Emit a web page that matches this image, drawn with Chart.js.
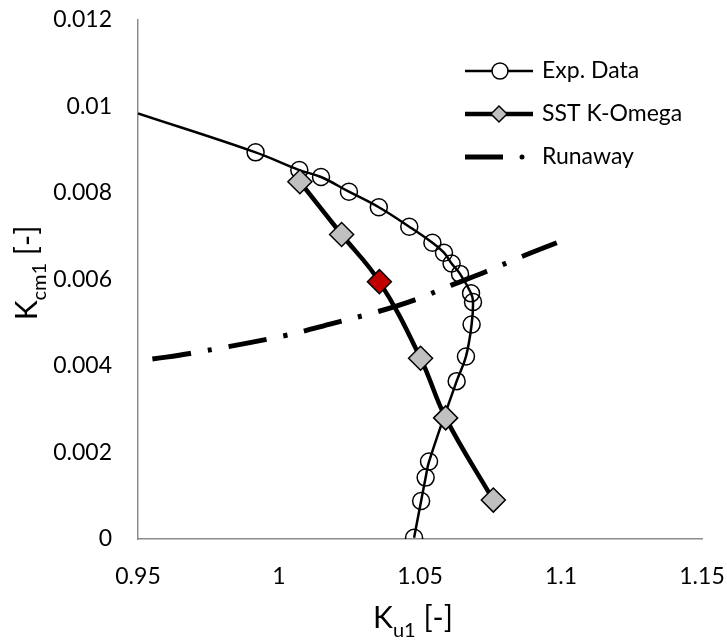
<!DOCTYPE html>
<html>
<head>
<meta charset="utf-8">
<script src="https://cdn.jsdelivr.net/npm/chart.js@4.4.1/dist/chart.umd.min.js"></script>
<style>
  html, body { margin: 0; padding: 0; background: #fff; }
  #wrap { width: 727px; height: 641px; }
</style>
</head>
<body>
<div id="wrap"><canvas id="chart" width="727" height="641"></canvas></div>
<script>
// Exp. Data (first point is where the curve enters the plot, no marker)
const expX = [0.95, 0.9917, 1.0072, 1.0149, 1.0248, 1.0354, 1.0462, 1.0544, 1.0585, 1.0612, 1.0642, 1.0681, 1.0688, 1.0683, 1.0663, 1.0630, 1.0532, 1.0520, 1.0504, 1.0479];
const expY = [0.00984, 0.00894, 0.00853, 0.00837, 0.00803, 0.00767, 0.00722, 0.00685, 0.00662, 0.00637, 0.00613, 0.00568, 0.00548, 0.00496, 0.00422, 0.00365, 0.00179, 0.00142, 0.00088, 0.00003];

// SST K-Omega
const sstX = [1.0074, 1.0222, 1.0356, 1.0502, 1.0591, 1.0760];
const sstY = [0.00826, 0.00704, 0.00595, 0.00418, 0.00280, 0.00090];
const sstHighlight = 2; // red marker

// Runaway
const runX = [0.9551, 0.9684, 1.0019, 1.0181, 1.0352, 1.0482, 1.0612, 1.0733, 1.0861, 1.0985];
const runY = [0.00416, 0.00429, 0.00470, 0.00497, 0.00526, 0.00553, 0.00587, 0.00618, 0.00653, 0.00685];

const xTicks = [0.95, 1, 1.05, 1.1, 1.15];
const yTicks = [0, 0.002, 0.004, 0.006, 0.008, 0.01, 0.012];
const seriesNames = ['Exp. Data', 'SST K-Omega', 'Runaway'];

const FONT = 'Lato, "Open Sans", sans-serif';

function toPoints(xs, ys) {
    return xs.map((x, i) => ({ x: x, y: ys[i] }));
}

// Legend drawn Excel-style (line with marker in the middle)
const legendPlugin = {
    id: 'excelLegend',
    afterDraw(chart) {
        const ctx = chart.ctx;
        const x0 = 465, x1 = 533, tx = 542;
        const rows = [71, 114, 157];
        ctx.save();
        ctx.strokeStyle = '#000';
        ctx.lineCap = 'butt';

        // Exp. Data
        ctx.lineWidth = 2.5;
        ctx.beginPath(); ctx.moveTo(x0, rows[0]); ctx.lineTo(x1, rows[0]); ctx.stroke();
        ctx.lineWidth = 1.5;
        ctx.fillStyle = '#fff';
        ctx.beginPath(); ctx.arc(500, rows[0], 8, 0, Math.PI * 2); ctx.fill(); ctx.stroke();

        // SST K-Omega
        ctx.lineWidth = 4.5;
        ctx.beginPath(); ctx.moveTo(x0, rows[1]); ctx.lineTo(x1, rows[1]); ctx.stroke();
        ctx.lineWidth = 1.5;
        ctx.fillStyle = '#c0c0c0';
        ctx.beginPath();
        ctx.moveTo(499 - 8, rows[1]); ctx.lineTo(499, rows[1] - 8);
        ctx.lineTo(499 + 8, rows[1]); ctx.lineTo(499, rows[1] + 8);
        ctx.closePath(); ctx.fill(); ctx.stroke();

        // Runaway
        ctx.lineWidth = 5;
        ctx.beginPath(); ctx.moveTo(x0, rows[2]); ctx.lineTo(503, rows[2]); ctx.stroke();
        ctx.fillStyle = '#000';
        ctx.beginPath(); ctx.arc(522, rows[2], 2.5, 0, Math.PI * 2); ctx.fill();

        ctx.font = '23px ' + FONT;
        ctx.fillStyle = '#000';
        ctx.textBaseline = 'middle';
        ctx.textAlign = 'left';
        seriesNames.forEach((name, i) => ctx.fillText(name, tx, rows[i]));
        ctx.restore();
    }
};

// Axis titles with subscripts
function drawSubTitle(ctx, main, sub, rest, cx, baseline) {
    const big = '30px ' + FONT, small = '20px ' + FONT;
    ctx.font = big; const w1 = ctx.measureText(main).width; const w3 = ctx.measureText(rest).width;
    ctx.font = small; const w2 = ctx.measureText(sub).width;
    let x = cx - (w1 + w2 + w3) / 2;
    ctx.textAlign = 'left';
    ctx.textBaseline = 'alphabetic';
    ctx.font = big; ctx.fillText(main, x, baseline); x += w1;
    ctx.font = small; ctx.fillText(sub, x, baseline + 9); x += w2;
    ctx.font = big; ctx.fillText(rest, x, baseline);
}

const titlePlugin = {
    id: 'axisTitles',
    afterDraw(chart) {
        const ctx = chart.ctx;
        ctx.save();
        ctx.fillStyle = '#000';
        drawSubTitle(ctx, 'K', 'u1', ' [-]', 413, 628);
        ctx.translate(37, 273);
        ctx.rotate(-Math.PI / 2);
        drawSubTitle(ctx, 'K', 'cm1', ' [-]', 0, 0);
        ctx.restore();
    }
};

function noPad(s) {
    s.paddingTop = 0; s.paddingBottom = 0; s.paddingLeft = 0; s.paddingRight = 0;
}

new Chart(document.getElementById('chart'), {
    type: 'scatter',
    data: {
        datasets: [{
            label: seriesNames[0],
            data: toPoints(expX, expY),
            showLine: true,
            borderColor: '#000',
            borderWidth: 2.5,
            tension: 0.4,
            pointStyle: 'circle',
            pointRadius: (c) => c.dataIndex === 0 ? 0 : 8.5,
            pointBorderWidth: 1.5,
            pointBorderColor: '#000',
            pointBackgroundColor: 'rgba(0,0,0,0)',
            order: 2
        }, {
            label: seriesNames[1],
            data: toPoints(sstX, sstY),
            showLine: true,
            borderColor: '#000',
            borderWidth: 4.5,
            tension: 0.4,
            pointStyle: 'rectRot',
            pointRadius: 12,
            pointBorderWidth: 1.5,
            pointBorderColor: '#000',
            pointBackgroundColor: (c) => c.dataIndex === sstHighlight ? '#c00000' : '#c0c0c0',
            order: 1
        }, {
            label: seriesNames[2],
            data: toPoints(runX, runY),
            showLine: true,
            borderColor: '#000',
            borderWidth: 5,
            borderDash: [39, 17, 4, 17],
            borderCapStyle: 'butt',
            tension: 0.4,
            pointRadius: 0,
            order: 0
        }]
    },
    options: {
        responsive: false,
        animation: false,
        layout: {
            padding: { top: 20, right: 25, left: 0, bottom: 0 }
        },
        plugins: {
            legend: { display: false },
            tooltip: { enabled: false }
        },
        scales: {
            x: {
                type: 'linear',
                min: 0.95,
                max: 1.15,
                afterBuildTicks: (s) => { s.ticks = xTicks.map(v => ({ value: v })); },
                afterFit: (s) => { s.height = 102; noPad(s); },
                grid: { display: false, drawTicks: false },
                border: { display: true, color: '#8c8c8c', width: 1.5 },
                ticks: {
                    color: '#000',
                    padding: 24,
                    maxRotation: 0,
                    font: { family: FONT, size: 23 },
                    callback: (v) => String(v)
                }
            },
            y: {
                type: 'linear',
                min: 0,
                max: 0.012,
                afterBuildTicks: (s) => { s.ticks = yTicks.map(v => ({ value: v })); },
                afterFit: (s) => { s.width = 138; noPad(s); },
                grid: { display: false, drawTicks: false },
                border: { display: true, color: '#8c8c8c', width: 1.5 },
                ticks: {
                    color: '#000',
                    padding: 26,
                    font: { family: FONT, size: 23 },
                    callback: (v) => String(v)
                }
            }
        }
    },
    plugins: [legendPlugin, titlePlugin]
});
</script>
</body>
</html>
